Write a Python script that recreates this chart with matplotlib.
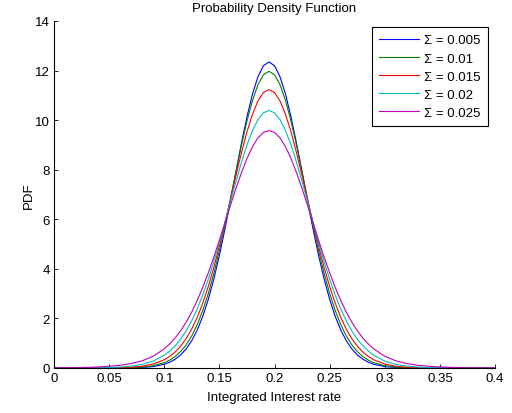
import matplotlib
matplotlib.use('Agg')
import matplotlib.pyplot as plt

# integrated interest rate sample points
rate = [0.0, 0.01, 0.02, 0.03, 0.04, 0.05, 0.06, 0.07, 0.08, 0.09, 0.1,
        0.105, 0.11, 0.115, 0.12, 0.125, 0.13, 0.135, 0.14, 0.145, 0.15, 0.155, 0.16, 0.165,
        0.17, 0.175, 0.18, 0.185, 0.19, 0.195, 0.2, 0.205, 0.21, 0.215, 0.22, 0.225, 0.23,
        0.235, 0.24, 0.245, 0.25, 0.255, 0.26, 0.265, 0.27, 0.275, 0.28, 0.285,
        0.29, 0.3, 0.31, 0.32, 0.33, 0.34, 0.35, 0.36, 0.37, 0.38, 0.39, 0.4]

pdf_s0005 = [0, 0, 0, 0, 0, 0.001, 0.002, 0.006, 0.020, 0.057, 0.150,
             0.234, 0.358, 0.533, 0.778, 1.108, 1.541, 2.092, 2.774, 3.591, 4.538, 5.596, 6.734, 7.908,
             9.060, 10.128, 11.046, 11.752, 12.198, 12.350, 12.198, 11.752, 11.046, 10.128, 9.060, 7.908, 6.734,
             5.596, 4.538, 3.591, 2.774, 2.092, 1.541, 1.108, 0.778, 0.533, 0.358, 0.234,
             0.150, 0.057, 0.020, 0.006, 0.002, 0.001, 0, 0, 0, 0, 0, 0]
pdf_s001 = [0, 0, 0, 0, 0, 0.001, 0.005, 0.013, 0.036, 0.091, 0.214,
            0.319, 0.467, 0.670, 0.943, 1.301, 1.758, 2.326, 3.013, 3.819, 4.737, 5.748, 6.821, 7.914,
            8.978, 9.956, 10.791, 11.431, 11.833, 11.970, 11.833, 11.431, 10.791, 9.956, 8.978, 7.914, 6.821,
            5.748, 4.737, 3.819, 3.013, 2.326, 1.758, 1.301, 0.943, 0.670, 0.467, 0.319,
            0.214, 0.091, 0.036, 0.013, 0.005, 0.001, 0, 0, 0, 0, 0, 0]
pdf_s0015 = [0, 0, 0, 0.001, 0.002, 0.005, 0.013, 0.032, 0.073, 0.160, 0.332,
             0.468, 0.649, 0.887, 1.193, 1.579, 2.054, 2.625, 3.296, 4.063, 4.916, 5.836, 6.795, 7.757,
             8.682, 9.522, 10.234, 10.775, 11.115, 11.230, 11.115, 10.775, 10.234, 9.522, 8.682, 7.757, 6.795,
             5.836, 4.916, 4.063, 3.296, 2.625, 2.054, 1.579, 1.193, 0.887, 0.649, 0.468,
             0.332, 0.160, 0.073, 0.032, 0.013, 0.005, 0.002, 0.001, 0, 0, 0, 0]
pdf_s002 = [0.0, 0.001, 0.002, 0.004, 0.009, 0.018, 0.038, 0.076, 0.149, 0.282, 0.515,
            0.686, 0.902, 1.174, 1.508, 1.912, 2.392, 2.95, 3.586, 4.294, 5.063, 5.873, 6.703, 7.521,
            8.297, 8.994, 9.579, 10.021, 10.296, 10.39, 10.296, 10.021, 9.579, 8.994, 8.297, 7.521, 6.703,
            5.873, 5.063, 4.294, 3.586, 2.95, 2.392, 1.912, 1.508, 1.174, 0.902, 0.686,
            0.515, 0.282, 0.149, 0.076, 0.038, 0.018, 0.009, 0.004, 0.002, 0.001, 0.0, 0.0]
pdf_s0025 = [0.004, 0.008, 0.014, 0.024, 0.042, 0.07, 0.11, 0.18, 0.29, 0.475, 0.772,
             0.973, 1.218, 1.512, 1.86, 2.266, 2.732, 3.26, 3.844, 4.479, 5.154, 5.852, 6.555, 7.24,
             7.88, 8.451, 8.926, 9.283, 9.505, 9.58, 9.505, 9.283, 8.926, 8.451, 7.88, 7.24, 6.555,
             5.852, 5.154, 4.479, 3.844, 3.26, 2.732, 2.266, 1.86, 1.512, 1.218, 0.973,
             0.772, 0.475, 0.29, 0.18, 0.11, 0.07, 0.042, 0.024, 0.014, 0.008, 0.004, 0.003]

series = [pdf_s0005, pdf_s001, pdf_s0015, pdf_s002, pdf_s0025]
labels = ['Σ = 0.005', 'Σ = 0.01', 'Σ = 0.015', 'Σ = 0.02', 'Σ = 0.025']
xticks = [0, 0.05, 0.1, 0.15, 0.2, 0.25, 0.3, 0.35, 0.4]
xticklabels = ['0', '0.05', '0.1', '0.15', '0.2', '0.25', '0.3', '0.35', '0.4']
yticks = [0, 2, 4, 6, 8, 10, 12, 14]

plt.rcParams['font.family'] = ['Liberation Sans', 'DejaVu Sans']
FS = 9.5
fig = plt.figure(figsize=(5.12, 4.14), dpi=100)
ax = fig.add_axes([54/512, 1-369/414, 441/512, 347/414])
colors = [(0, 0, 1), (0, 0.5, 0), (1, 0, 0), (0, 0.75, 0.75), (0.75, 0, 0.75)]
for y, c, l in zip(series, colors, labels):
    ax.plot(rate, y, color=c, lw=0.8, label=l)
ax.set_xlim(0, 0.4)
ax.set_ylim(0, 14)
ax.set_xticks(xticks)
ax.set_xticklabels(xticklabels)
ax.set_yticks(yticks)
ax.spines['top'].set_visible(False)
ax.spines['right'].set_visible(False)
ax.tick_params(direction='in', length=3.2, width=0.6, labelsize=FS, pad=3)
ax.set_title('Probability Density Function', fontsize=FS, pad=7.5)
ax.set_xlabel('Integrated Interest rate', fontsize=FS)
ax.xaxis.set_label_coords(0.5, (369-392)/347)
ax.set_ylabel('PDF', fontsize=FS)
ax.yaxis.set_label_coords((35-54)/441, 0.5)
leg = ax.legend(loc='upper right', bbox_to_anchor=(488/512, 1-28/414), bbox_transform=fig.transFigure,
                borderaxespad=0, fancybox=False, framealpha=1, edgecolor='black', fontsize=FS,
                handlelength=3.0, handletextpad=0.4, labelspacing=0.44, borderpad=0.55)
leg.get_frame().set_linewidth(0.8)
fig.savefig('out.png', dpi=100)
